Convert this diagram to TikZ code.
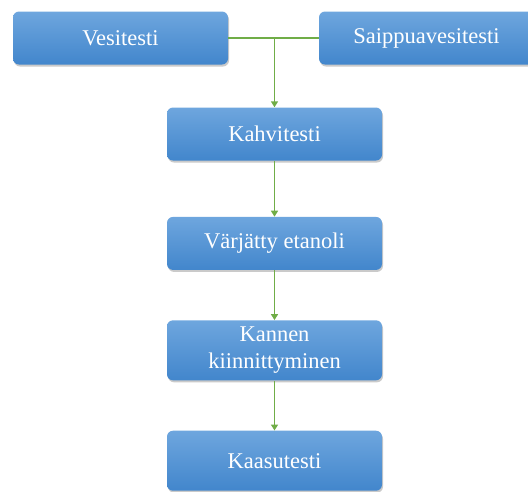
\documentclass[tikz,border=0pt]{standalone}
\usepackage{fontspec}
\setmainfont{Liberation Serif}
\newfontfamily\boxfont{Liberation Serif}
\usetikzlibrary{arrows.meta}
\usetikzlibrary{positioning}
\usetikzlibrary{shadows}
\definecolor{boxtop}{RGB}{110,166,222}
\definecolor{boxbot}{RGB}{66,134,204}
\definecolor{flow}{RGB}{112,173,71}

\begin{document}
\begin{tikzpicture}
    [box/.style={rectangle, rounded corners=6pt, draw=none, top color=boxtop, bottom color=boxbot,
                 minimum width=215pt, minimum height=53pt, align=center, text=white,
                 font=\boxfont\fontsize{22.5}{27}\selectfont, inner sep=2pt,
                 drop shadow={shadow xshift=1pt, shadow yshift=-2pt, opacity=0.35, fill=black!60}},
     tall/.style={minimum height=60pt},
     arr/.style={-{Triangle[length=6pt, width=7pt]}, draw=flow, line width=1.5pt},
     merge/.style={draw=flow, line width=1.5pt}]

    \useasboundingbox (0,0) rectangle (528pt,-491pt);

    \node [box] (vesi) at (120.5pt, -38pt) {Vesitesti};
    \node [box] (saippua) at (426.5pt, -38pt) {Saippuavesitesti};

    \node [box] (kahvi) at (274.5pt, -134pt) {Kahvitesti};
    \node [box, below=56pt of kahvi] (etanoli) {V\"arj\"atty etanoli};
    \node [box, tall, below=50pt of etanoli] (kansi) {Kannen\\kiinnittyminen};
    \node [box, tall, below=50pt of kansi] (kaasu) {Kaasutesti};

    \coordinate (j) at (vesi.east -| kahvi.north);

    \draw [merge] (vesi.east) -- (saippua.west);
    \draw [arr] (j) -- (kahvi.north);
    \draw [arr] (kahvi) -- (etanoli);
    \draw [arr] (etanoli) -- (kansi);
    \draw [arr] (kansi) -- (kaasu);
\end{tikzpicture}
\end{document}
